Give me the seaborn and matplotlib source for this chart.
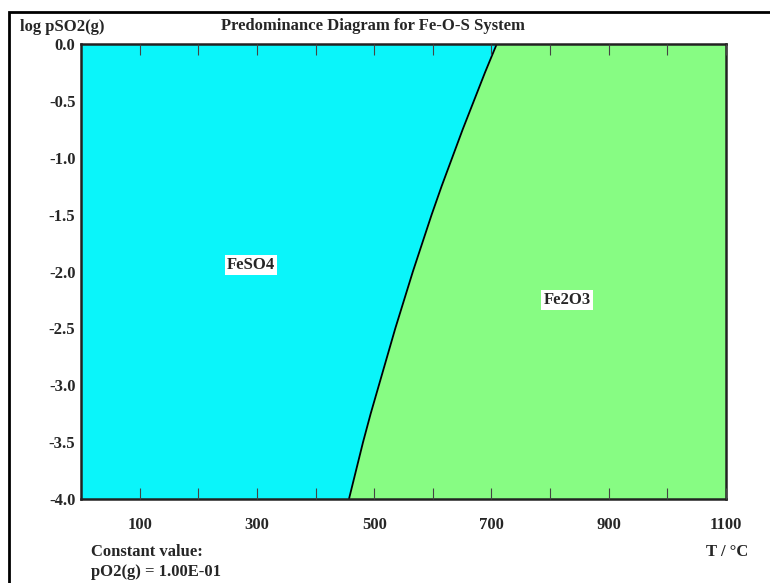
"""Predominance diagram for the Fe-O-S system."""

import matplotlib.pyplot as plt
import pandas as pd
import seaborn as sns
from matplotlib.patches import Rectangle

# Boundary FeSO4 / Fe2O3
log_pso2 = [-4.0, -3.75, -3.5, -3.25, -3.0, -2.75, -2.5, -2.25, -2.0,
            -1.75, -1.5, -1.25, -1.0, -0.75, -0.5, -0.25, 0.0]
boundary_t = [457, 469, 481, 494, 508, 522, 536, 551, 566,
              582, 598, 615, 633, 651, 670, 689, 709]

phase_names = ["FeSO4", "Fe2O3"]
phase_label_t = [290, 829]
phase_label_y = [-1.94, -2.25]

x_ticks = list(range(100, 1101, 100))
x_tick_labels = ["100", "", "300", "", "500", "", "700", "", "900", "", "1100"]
y_ticks = [0.0, -0.5, -1.0, -1.5, -2.0, -2.5, -3.0, -3.5, -4.0]

T_MIN, T_MAX = 0, 1100
FS = 12

sns.set_style("white")
plt.rcParams["font.family"] = ["Liberation Serif", "DejaVu Serif"]
plt.rcParams["font.weight"] = "bold"

fig = plt.figure(figsize=(7.7, 5.83), dpi=100)
ax = fig.add_axes([0.1052, 0.1441, 0.8377, 0.7804])

df = pd.DataFrame({"T": boundary_t, "logp": log_pso2})

# Fill the two stability fields
ax.fill_betweenx(df["logp"], T_MIN, df["T"], color="#0AF5FA", lw=0)
ax.fill_betweenx(df["logp"], df["T"], T_MAX, color="#87FC83", lw=0)

# Boundary line
sns.lineplot(data=df, x="T", y="logp", orient="y", sort=False,
             color="black", linewidth=1.3, ax=ax)

for name, tx, ty in zip(phase_names, phase_label_t, phase_label_y):
    ax.text(tx, ty, name, ha="center", va="center", fontsize=FS,
            fontweight="bold",
            bbox=dict(facecolor="white", edgecolor="none", pad=1.5))

ax.set_axisbelow(False)
ax.set_xlim(T_MIN, T_MAX)
ax.set_ylim(-4.0, 0.0)
ax.set_xticks(x_ticks)
ax.set_xticklabels(x_tick_labels)
ax.set_yticks(y_ticks)
ax.set_yticklabels([f"{v:.1f}" for v in y_ticks])
ax.tick_params(axis="x", which="both", direction="in", length=8, width=0.8,
               top=True, bottom=True, labelsize=FS, pad=13, color="#444444")
ax.tick_params(axis="y", length=0, labelsize=FS, pad=4)
for lbl in ax.get_xticklabels() + ax.get_yticklabels():
    lbl.set_fontweight("bold")
ax.set_xlabel("")
ax.set_ylabel("")
for spine in ax.spines.values():
    spine.set_visible(True)
    spine.set_linewidth(1.8)
    spine.set_color("#222222")

# Text around the plot
fig.text(20 / 770, 1 - 27 / 583, "log pSO2(g)", ha="left", va="center",
         fontsize=FS, fontweight="bold")
fig.text(373 / 770, 1 - 26 / 583, "Predominance Diagram for Fe-O-S System",
         ha="center", va="center", fontsize=FS, fontweight="bold")
fig.text(727 / 770, 1 - 552 / 583, "T / °C", ha="center", va="center",
         fontsize=FS, fontweight="bold")
fig.text(91 / 770, 1 - 552 / 583, "Constant value:", ha="left", va="center",
         fontsize=FS, fontweight="bold")
fig.text(91 / 770, 1 - 572 / 583, "pO2(g) = 1.00E-01", ha="left",
         va="center", fontsize=FS, fontweight="bold")

# Outer frame of the report
fig.patches.append(Rectangle((9 / 770, -0.1), 1.2, 1.1 - 12 / 583,
                             transform=fig.transFigure, fill=False,
                             edgecolor="black", linewidth=2))

fig.savefig("out.png", dpi=100)
plt.close(fig)
